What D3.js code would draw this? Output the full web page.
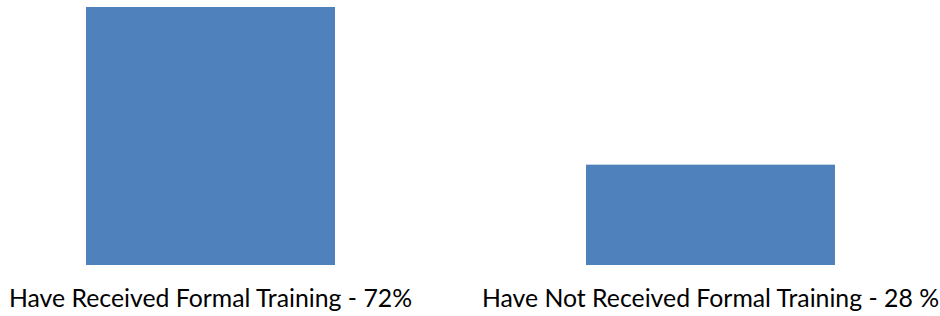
<!DOCTYPE html>
<html>
<head>
<meta charset="utf-8">
<script src="https://cdn.jsdelivr.net/npm/d3@7"></script>
<style>
  body { margin: 0; background: #fff; }
  svg { display: block; }
</style>
</head>
<body>
<div id="chart"></div>
<script>
// datos
const categories = ["received", "notReceived"];
const values = [72, 28];
const labels = ["Have Received Formal Training - 72%", "Have Not Received Formal Training - 28 %"];

const width = 940, height = 316;

const svg = d3.select("#chart").append("svg")
  .attr("width", width)
  .attr("height", height);

// escalas
const x = d3.scaleBand()
  .domain(categories)
  .range([-39.5, 960.5])
  .paddingInner(0.502)
  .paddingOuter(0.251);

const y = d3.scaleLinear()
  .domain([0, 72])
  .range([265, 7]);

// barras
svg.append("g")
  .selectAll("rect")
  .data(categories)
  .join("rect")
  .attr("x", d => x(d))
  .attr("y", (d, i) => y(values[i]))
  .attr("width", x.bandwidth())
  .attr("height", (d, i) => y(0) - y(values[i]))
  .attr("fill", "#4F81BD");

// etiquetas
svg.append("g")
  .selectAll("text")
  .data(categories)
  .join("text")
  .attr("x", d => x(d) + x.bandwidth() / 2)
  .attr("y", 307)
  .attr("text-anchor", "middle")
  .style("font-family", "Lato, 'Open Sans', sans-serif")
  .style("font-size", "24.8px")
  .style("fill", "#000")
  .text((d, i) => labels[i]);
</script>
</body>
</html>
